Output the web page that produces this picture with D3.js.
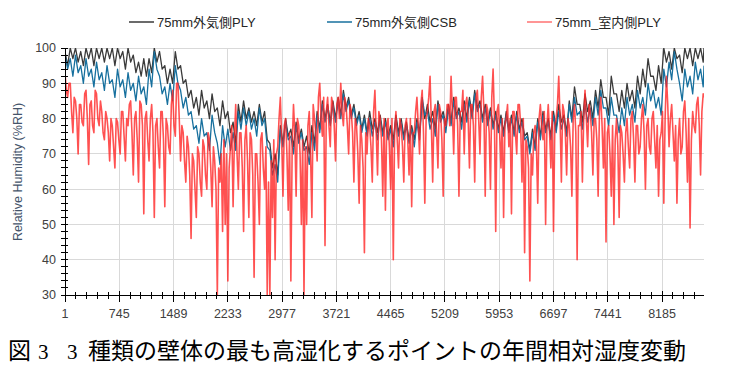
<!DOCTYPE html>
<html><head><meta charset="utf-8">
<script src="https://cdn.jsdelivr.net/npm/d3@7"></script>
<style>body{margin:0;background:#fff}svg{display:block}</style>
</head><body><svg id="c" width="737" height="370"></svg>
<script>
const seriesNames = ["75mm外気側PLY", "75mm外気側CSB", "75mm_室内側PLY"];
const xTickValues = [1, 745, 1489, 2233, 2977, 3721, 4465, 5209, 5953, 6697, 7441, 8185];
const yTickValues = [30, 40, 50, 60, 70, 80, 90, 100];
const lastHour = 8760;
const outerStep = 36;   // hours between samples (outer series)
const innerStep = 18;   // hours between samples (inner series)

const plyOuter = [
 99,95, 100,97, 100,96, 99,95, 100,97, 100,95, 100,97, 100,96, 100,97, 100,95, 100,97, 99,94, 100,96, 98,93, 96,92, 97,92,
 97,93, 100,96, 99,94, 95,90, 94,90, 99,94, 95,90, 91,86, 88,83, 86,81, 88,83, 85,80, 87,82, 83,78, 85,80,
 82,76, 79,73, 84,79, 85,80, 83,79, 82,78, 84,79, 82,74, 73,66, 70,64, 78,73, 80,75, 77,72, 79,74, 77,72,
 75,70, 78,73, 82,77, 85,80, 84,79, 85,80, 86,81, 88,83, 86,81, 84,79, 82,77, 81,76, 82,77, 80,76, 81,76,
 80,75, 78,74, 81,76, 80,75, 79,74, 78,74, 80,76, 85,80, 84,79, 82,77, 85,80, 82,78, 84,79, 86,81, 83,79, 85,80,
 86,81, 88,83, 85,80, 84,79, 83,78, 82,77, 81,76, 82,77, 81,76, 82,77, 80,75, 76,71, 77,72, 80,75, 82,77,
 80,75, 82,77, 84,79, 81,76, 85,80, 89,84, 84,79, 87,82, 85,80, 88,83, 91,86, 86,81, 92,87, 87,82, 88,83,
 90,85, 88,83, 92,87, 94,89, 97,92, 92,88, 95,90, 100,96, 99,94, 100,97, 98,93, 100,97, 100,95, 100,97, 100,96,
 100];
const csbOuter = [
 98,94, 97,92, 98,93, 95,90, 97,92, 94,89, 96,91, 93,88, 95,90, 91,86, 94,89, 91,86, 93,88, 90,85, 92,87, 89,84,
 94,89, 99,94, 92,87, 89,84, 90,85, 95,90, 88,83, 86,81, 82,77, 78,73, 80,75, 76,71, 81,76, 73,67, 78,72,
 77,71, 76,71, 82,77, 83,78, 82,77, 80,75, 83,78, 80,72, 71,64, 67,62, 77,72, 79,74, 75,70, 78,73, 76,71,
 72,67, 76,71, 81,76, 84,79, 83,78, 84,79, 85,80, 87,82, 85,80, 83,78, 81,76, 80,75, 80,75, 79,74, 80,75,
 79,74, 77,72, 80,75, 79,74, 78,73, 77,72, 79,74, 86,81, 82,77, 80,75, 84,79, 81,76, 83,78, 85,80, 82,77, 84,79,
 85,80, 87,82, 84,79, 83,78, 82,77, 81,76, 80,75, 81,76, 80,75, 81,76, 79,74, 75,70, 76,71, 79,74, 81,76,
 79,74, 81,76, 82,77, 80,75, 84,79, 86,81, 82,77, 84,79, 83,78, 86,81, 88,83, 83,78, 86,81, 81,76, 83,78,
 86,81, 84,79, 88,83, 86,81, 90,85, 88,83, 86,81, 94,89, 96,91, 99,94, 90,85, 94,89, 92,87, 96,91, 94,89,
 95];
const plyInner = [
 93,88, 86,90, 90,82, 76,86, 85,80, 70,84, 84,79, 78,87, 88,80, 67,84, 85,78, 76,88, 87,80, 78,85, 82,76, 74,82,
 80,76, 68,80, 78,72, 66,80, 79,74, 70,82, 82,75, 68,80, 78,84, 85,76, 64,80, 82,74, 62,85, 84,78, 53,80,
 82,74, 68,80, 84,76, 52,78, 80,72, 66,82, 82,74, 55,80, 78,72, 70,84, 88,78, 75,90, 90,80, 68,78, 76,68,
 62,75, 72,64, 46,70, 68,60, 52,72, 70,62, 58,74, 72,64, 60,76, 74,66, 55,72, 68,60, 30,66, 62,70, 48,74,
 50,70, 34,66, 72,78, 55,74, 84,70, 60,76, 76,66, 48,74, 78,68, 52,76, 74,64, 35,70, 70,62, 50,74, 76,66,
 60,72, 30,62, 30,68, 52,74, 40,70, 72,80, 86,74, 58,78, 80,70, 54,76, 34,72, 84,76, 58,80, 78,70, 50,74, 30,72,
 50,78, 82,70, 52,84, 80,76, 68,86, 90,80, 75,86, 44,82, 86,78, 72,86, 84,78, 68,84, 86,80, 90,82, 78,86,
 84,78, 70,84, 82,76, 62,80, 78,70, 56,78, 74,66, 42,76, 70,80, 78,72, 62,82, 88,76, 64,82, 80,74, 58,80,
 54,78, 80,72, 60,80, 40,76, 82,74, 66,80, 78,72, 62,78, 80,74, 64,80, 55,76, 76,82, 86,78, 70,84, 88,76,
 56,80, 82,86, 92,78, 62,82, 84,76, 66,84, 82,74, 58,80, 78,84, 84,78, 92,82, 70,86, 86,78, 58,82, 82,88, 70,84,
 86,80, 66,84, 84,78, 62,86, 88,80, 70,86, 92,82, 58,84, 82,76, 60,86, 94,80, 48,82, 84,76, 66,80, 52,78,
 80,84, 72,80, 53,82, 82,76, 70,84, 84,78, 62,80, 42,74, 72,66, 34,70, 64,76, 78,72, 56,80, 84,78, 74,82,
 50,78, 84,76, 66,82, 48,78, 80,84, 92,80, 62,84, 82,76, 64,80, 78,72, 58,80, 84,76, 40,78, 78,82, 62,80,
 88,80, 72,84, 82,76, 64,80, 80,74, 58,82, 86,78, 66,80, 45,76, 78,70, 58,78, 50,74, 80,72, 52,78, 76,70,
 62,76, 80,72, 66,80, 82,74, 62,78, 78,70, 72,80, 84,76, 60,78, 80,72, 70,80, 82,74, 66,78, 58,74, 76,82,
 56,80, 92,84, 72,80, 84,76, 68,78, 56,74, 80,70, 72,82, 85,76, 62,80, 49,74, 82,78, 76,84, 86,78, 64,82, 87,
 86];

function toPoints(vals, step) {
  return vals.map((v, i) => ({h: i === vals.length - 1 ? lastHour : 1 + step * i, v}));
}
const series = [
  {name: seriesNames[0], data: toPoints(plyOuter, outerStep), color: "#3a3a3a", op: 1, w: 1.3},
  {name: seriesNames[1], data: toPoints(csbOuter, outerStep), color: "#17709e", op: 1, w: 1.3},
  {name: seriesNames[2], data: toPoints(plyInner, innerStep), color: "#ff2626", op: 0.8, w: 1.6}
];

const svg = d3.select("#c");
const L = 65, R = 704, T = 48, B = 295;
const x = d3.scaleLinear().domain([1, lastHour]).range([L, R]);
const y = d3.scaleLinear().domain([30, 100]).range([B, T]);
const font = "'Liberation Sans', Arial, 'Noto Sans CJK JP', sans-serif";

// grid
svg.append("g").selectAll("line").data(yTickValues.filter(d => d > 30)).join("line")
  .attr("x1", L).attr("x2", R).attr("y1", d => y(d)).attr("y2", d => y(d))
  .attr("stroke", "#d9d9d9").attr("stroke-width", 1).attr("shape-rendering", "crispEdges");
svg.append("g").selectAll("line").data(xTickValues.slice(1)).join("line")
  .attr("x1", d => x(d)).attr("x2", d => x(d)).attr("y1", T).attr("y2", B)
  .attr("stroke", "#d9d9d9").attr("stroke-width", 1).attr("shape-rendering", "crispEdges");

// clip
svg.append("clipPath").attr("id", "clip").append("rect")
  .attr("x", L).attr("y", T).attr("width", R - L).attr("height", B - T);

const line = d3.line().x(d => x(d.h)).y(d => y(d.v));
const gl = svg.append("g").attr("clip-path", "url(#clip)");
series.forEach(s => {
  gl.append("path").datum(s.data).attr("d", line)
    .attr("fill", "none").attr("stroke", s.color).attr("stroke-opacity", s.op)
    .attr("stroke-width", s.w).attr("stroke-linejoin", "round");
});

// axes
const ax = svg.append("g").attr("stroke", "#000").attr("shape-rendering", "crispEdges");
ax.append("line").attr("x1", L).attr("x2", L).attr("y1", T).attr("y2", B);
ax.append("line").attr("x1", L).attr("x2", R).attr("y1", B).attr("y2", B);
const yMinor = d3.range(30, 100.01, 2);
ax.selectAll(".ym").data(yMinor).join("line")
  .attr("x1", L - 4).attr("x2", L + 3).attr("y1", d => y(d)).attr("y2", d => y(d));
const xMinor = d3.range(1, lastHour, 744 / 5);
ax.selectAll(".xm").data(xMinor).join("line")
  .attr("x1", d => x(d)).attr("x2", d => x(d)).attr("y1", B - 3).attr("y2", B + 4);
ax.selectAll(".xM").data(xTickValues).join("line")
  .attr("x1", d => x(d)).attr("x2", d => x(d)).attr("y1", B - 4).attr("y2", B + 7);

svg.append("g").selectAll("text").data(yTickValues).join("text")
  .attr("x", L - 9).attr("y", d => y(d)).attr("dy", "0.35em").attr("text-anchor", "end")
  .attr("font-family", font).attr("font-size", 12.5).attr("fill", "#404040").text(d => d);
svg.append("g").selectAll("text").data(xTickValues).join("text")
  .attr("x", d => x(d)).attr("y", 318).attr("text-anchor", "middle")
  .attr("font-family", font).attr("font-size", 12.5).attr("fill", "#404040").text(d => d);

svg.append("text").attr("transform", "translate(22,172) rotate(-90)").attr("text-anchor", "middle")
  .attr("font-family", font).attr("font-size", 12.5).attr("fill", "#44546a")
  .text("Relative Humidity (%RH)");

// legend
const lg = [{x: 129}, {x: 327}, {x: 527}];
series.forEach((s, i) => {
  svg.append("line").attr("x1", lg[i].x).attr("x2", lg[i].x + 25).attr("y1", 22).attr("y2", 22)
    .attr("stroke", s.color).attr("stroke-opacity", i === 2 ? 0.65 : 1).attr("stroke-width", 1.5);
  svg.append("text").attr("x", lg[i].x + 28).attr("y", 26.5)
    .attr("font-family", font).attr("font-size", 13).attr("fill", "#262626").text(s.name);
});

// title
const t = svg.append("text").attr("y", 359).attr("font-size", 23).attr("fill", "#000")
  .attr("font-family", "'Noto Sans CJK JP', sans-serif");
t.append("tspan").attr("x", 8).text("図");
t.append("tspan").attr("x", 38).attr("font-family", "'Liberation Serif', serif").attr("font-size", 21).text("3");
t.append("tspan").attr("x", 67).attr("font-family", "'Liberation Serif', serif").attr("font-size", 21).text("3");
t.append("tspan").attr("x", 88).text("種類の壁体の最も高湿化するポイントの年間相対湿度変動");
</script></body></html>
